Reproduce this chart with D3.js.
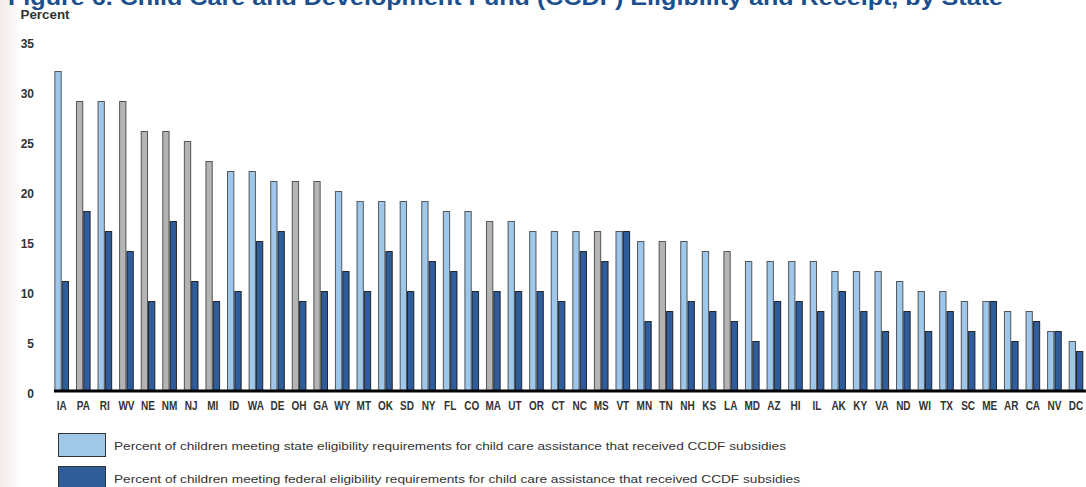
<!DOCTYPE html>
<html>
<head>
<meta charset="utf-8">
<script src="https://cdn.jsdelivr.net/npm/d3@7"></script>
<style>
  html, body { margin: 0; padding: 0; background: #ffffff; }
  svg { display: block; }
</style>
</head>
<body>
<svg id="chart" width="1086" height="487"></svg>
<script>
// ---- data ----
const states = ["IA","PA","RI","WV","NE","NM","NJ","MI","ID","WA","DE","OH","GA","WY","MT","OK","SD","NY","FL","CO","MA","UT","OR","CT","NC","MS","VT","MN","TN","NH","KS","LA","MD","AZ","HI","IL","AK","KY","VA","ND","WI","TX","SC","ME","AR","CA","NV","DC"];
const stateElig = [32,29,29,29,26,26,25,23,22,22,21,21,21,20,19,19,19,19,18,18,17,17,16,16,16,16,16,15,15,15,14,14,13,13,13,13,12,12,12,11,10,10,9,9,8,8,6,5];
const federalElig = [11,18,16,14,9,17,11,9,10,15,16,9,10,12,10,14,10,13,12,10,10,10,10,9,14,13,16,7,8,9,8,7,5,9,9,8,10,8,6,8,6,8,6,9,5,7,6,4];
const grayStates = ["PA","WV","NE","NM","NJ","MI","OH","GA","MA","MS","TN","LA"];
const yTicks = [0,5,10,15,20,25,30,35];
const titleText = "Figure 6. Child Care and Development Fund (CCDF) Eligibility and Receipt, by State";
const yLabel = "Percent";
const legendLabels = [
  "Percent of children meeting state eligibility requirements for child care assistance that received CCDF subsidies",
  "Percent of children meeting federal eligibility requirements for child care assistance that received CCDF subsidies"
];

// ---- styles ----
const C_LIGHT = "#9ec7ea", C_DARK = "#2f5d9b", C_GRAY = "#b4b4b4", C_STROKE = "#2a2a2a";
const svg = d3.select("#chart");

// subtle slide background on the left edge
const defs = svg.append("defs");
const grad = defs.append("linearGradient").attr("id","bg").attr("x1","0").attr("x2","1");
grad.append("stop").attr("offset","0").attr("stop-color","#f3ebe9");
grad.append("stop").attr("offset","1").attr("stop-color","#ffffff");
svg.append("rect").attr("x",0).attr("y",0).attr("width",22).attr("height",487).attr("fill","url(#bg)");

// ---- scales ----
const x = d3.scaleBand().domain(states).range([50.9, 1086.8]).paddingInner(0.32).paddingOuter(0.16);
const y = d3.scaleLinear().domain([0, 35]).range([391, 41]);
const bw = x.bandwidth() / 2;

// title (partially cut at top, as in the reference)
svg.append("text").attr("x", 8).attr("y", 5)
  .attr("font-family", "Liberation Sans, Arial, sans-serif")
  .attr("font-weight", "bold").attr("font-size", 22)
  .attr("fill", "#1c4f8e")
  .attr("textLength", 995).attr("lengthAdjust", "spacingAndGlyphs")
  .text(titleText);

// y label
svg.append("text").attr("x", 20.5).attr("y", 18.5)
  .attr("font-family", "Liberation Sans Narrow, Arial Narrow, Liberation Sans, sans-serif")
  .attr("font-weight", "bold").attr("font-size", 13)
  .attr("fill", "#333")
  .attr("textLength", 49).attr("lengthAdjust", "spacingAndGlyphs")
  .text(yLabel);

// y tick labels
const yAxis = d3.axisLeft(y).tickValues(yTicks).tickSize(0).tickPadding(0);
const gy = svg.append("g").attr("transform", "translate(34,2.5)").call(yAxis);
gy.select(".domain").remove();
gy.selectAll("text")
  .attr("font-family", "Liberation Sans, Arial, sans-serif")
  .attr("font-weight", "bold").attr("font-size", 12)
  .attr("fill", "#333");

// bars
const data = states.map((s, i) => ({ s, st: stateElig[i], fe: federalElig[i], gray: grayStates.includes(s) }));
const g = svg.append("g");
g.selectAll("rect.st").data(data).join("rect").attr("class", "st")
  .attr("x", d => x(d.s) + 0.5)
  .attr("y", d => y(d.st) + 0.5)
  .attr("width", bw - 1)
  .attr("height", d => y(0) - y(d.st))
  .attr("fill", d => d.gray ? C_GRAY : C_LIGHT)
  .attr("stroke", C_STROKE).attr("stroke-width", 1).attr("stroke-opacity", 0.75);
g.selectAll("rect.fe").data(data).join("rect").attr("class", "fe")
  .attr("x", d => x(d.s) + bw + 0.5)
  .attr("y", d => y(d.fe) + 0.5)
  .attr("width", bw - 1)
  .attr("height", d => y(0) - y(d.fe))
  .attr("fill", C_DARK)
  .attr("stroke", "#111").attr("stroke-width", 1).attr("stroke-opacity", 0.85);

// baseline
svg.append("line").attr("x1", 54).attr("x2", 1086).attr("y1", y(0)).attr("y2", y(0))
  .attr("stroke", "#000").attr("stroke-width", 3);

// x axis labels (condensed)
const xAxis = d3.axisBottom(x).tickSize(0).tickPadding(0);
const gx = svg.append("g").attr("transform", "translate(0,401)").call(xAxis);
gx.select(".domain").remove();
gx.selectAll("text")
  .attr("dy", "0.71em")
  .attr("font-family", "Liberation Sans, Arial, sans-serif")
  .attr("font-weight", "bold").attr("font-size", 12.5)
  .attr("fill", "#333")
  .each(function() {
    const len = this.getComputedTextLength();
    d3.select(this).attr("textLength", len * 0.8).attr("lengthAdjust", "spacingAndGlyphs");
  });

// legend
const legendColors = [C_LIGHT, C_DARK];
const legendLens = [672, 686];
const lg = svg.append("g");
legendLabels.forEach((t, i) => {
  const yy = 433 + i * 33;
  lg.append("rect").attr("x", 58.5).attr("y", yy + 0.5).attr("width", 47).attr("height", 23)
    .attr("fill", legendColors[i]).attr("stroke", "#333").attr("stroke-width", 1);
  lg.append("text").attr("x", 114).attr("y", yy + 17)
    .attr("font-family", "Liberation Sans, Arial, sans-serif")
    .attr("font-size", 11.5).attr("fill", "#333")
    .attr("textLength", legendLens[i]).attr("lengthAdjust", "spacingAndGlyphs")
    .text(t);
});
</script>
</body>
</html>
